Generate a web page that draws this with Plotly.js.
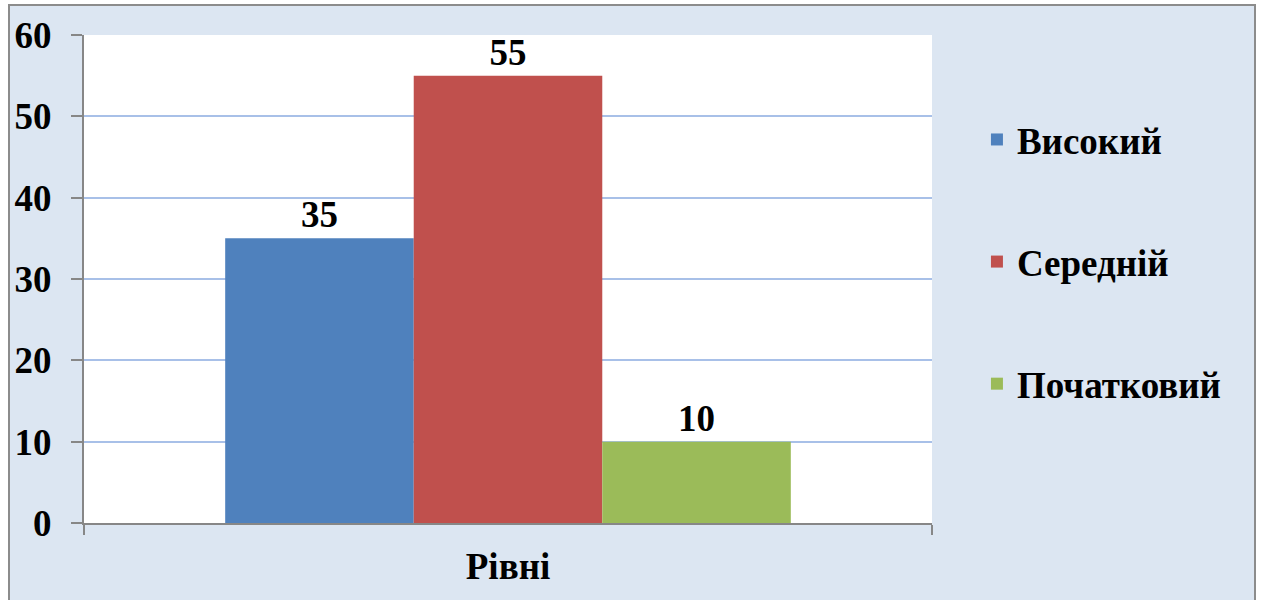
<!DOCTYPE html>
<html>
<head>
<meta charset="utf-8">
<script src="https://cdn.plot.ly/plotly-3.0.1.min.js"></script>
<style>
html,body{margin:0;padding:0;background:#ffffff;width:1261px;height:600px;overflow:hidden;}
#frame{position:absolute;left:8px;top:4px;width:1248px;height:610px;background:#dce6f2;border:2px solid #8c8c8c;box-sizing:border-box;}
#chart{position:absolute;left:0;top:0;width:1261px;height:600px;}
</style>
</head>
<body>
<div id="frame"></div>
<div id="chart"></div>
<script>
const categories = ["Рівні"];
const seriesNames = ["Високий", "Середній", "Початковий"];
const seriesValues = [[35], [55], [10]];
const seriesColors = ["#4f81bd", "#c0504d", "#9bbb59"];
const yTicks = [0, 10, 20, 30, 40, 50, 60];

const bold = {family: "Liberation Serif", size: 37, color: "#000000", weight: "bold"};

const traces = seriesNames.map((name, i) => ({
  type: "bar",
  name: name,
  x: categories,
  y: seriesValues[i],
  marker: {color: seriesColors[i]},
  text: seriesValues[i].map(String),
  textposition: "outside",
  cliponaxis: false,
  textfont: bold,
  legendgroup: "g" + i
}));

const layout = {
  width: 1261,
  height: 600,
  margin: {l: 84, r: 329, t: 35, b: 77},
  paper_bgcolor: "rgba(0,0,0,0)",
  plot_bgcolor: "#ffffff",
  barmode: "group",
  bargap: 0.333,
  bargroupgap: 0,
  showlegend: true,
  legend: {
    x: 1.053, xanchor: "left",
    y: 0.535, yanchor: "middle",
    font: bold,
    bgcolor: "rgba(0,0,0,0)",
    tracegroupgap: 71,
    traceorder: "grouped",
    itemwidth: 30
  },
  xaxis: {
    type: "category",
    showline: true,
    linecolor: "#878787",
    linewidth: 2,
    ticks: "outside",
    tickson: "boundaries",
    ticklen: 10,
    tickcolor: "#878787",
    tickwidth: 2,
    ticklabelstandoff: 10,
    tickfont: bold,
    showgrid: false,
    zeroline: false,
    fixedrange: true
  },
  yaxis: {
    range: [0, 60],
    tickvals: yTicks,
    ticktext: yTicks.map(String),
    showline: true,
    linecolor: "#878787",
    linewidth: 2,
    ticks: "outside",
    ticklen: 11,
    tickcolor: "#878787",
    tickwidth: 2,
    ticklabelstandoff: 12,
    tickfont: bold,
    showgrid: true,
    gridcolor: "#a8c0e8",
    gridwidth: 2,
    zeroline: false,
    fixedrange: true
  }
};

Plotly.newPlot("chart", traces, layout, {displayModeBar: false, staticPlot: true});
</script>
</body>
</html>
